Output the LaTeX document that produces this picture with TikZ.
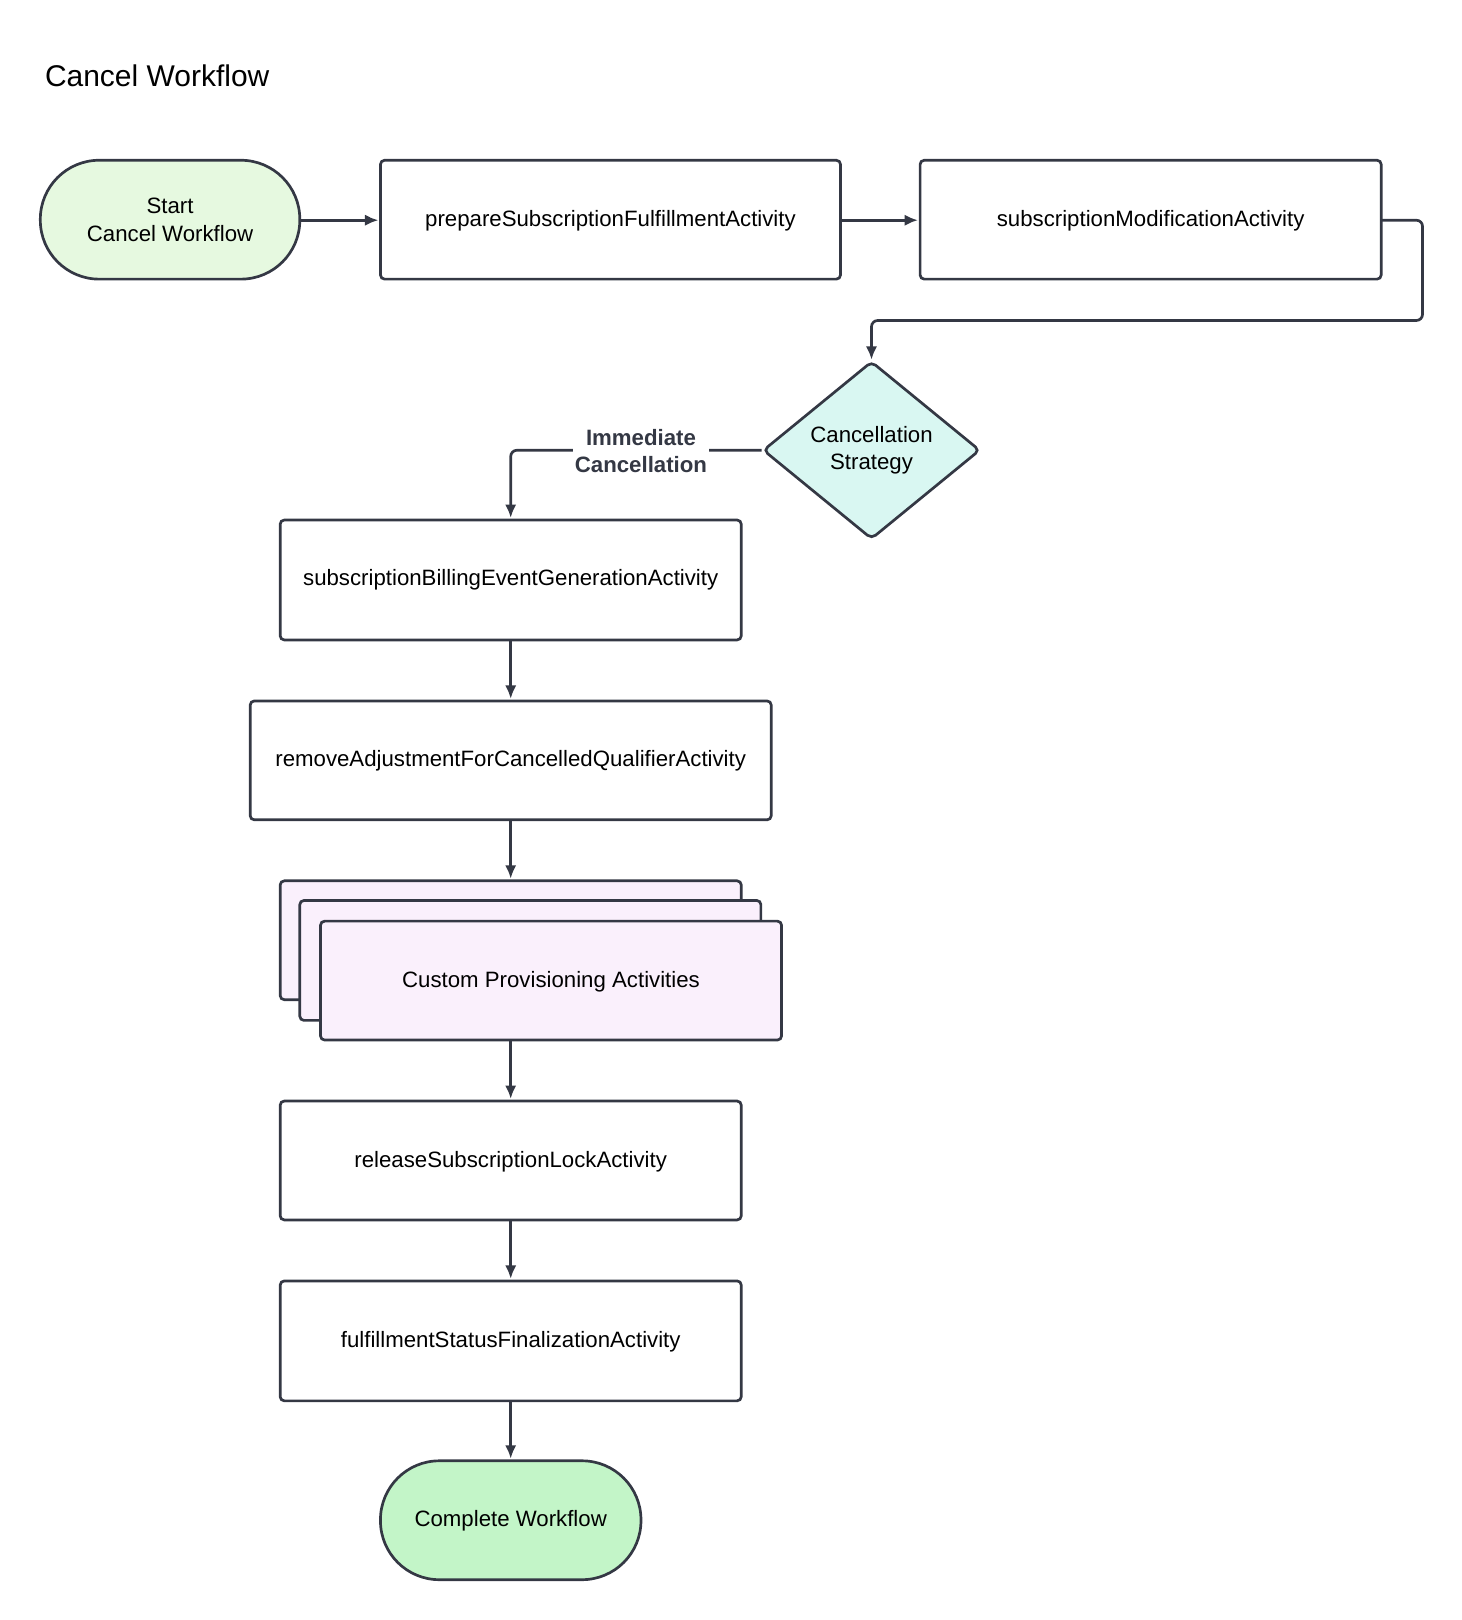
\documentclass[tikz,border=0pt]{standalone}
\usepackage{fontspec}
\setmainfont{Liberation Sans}
\usetikzlibrary{shapes.geometric,arrows.meta}
\definecolor{ln}{HTML}{343844}
\tikzset{x=1pt,y=-1pt,
 box/.style={draw=ln,line width=2.6pt,rounded corners=4pt,fill=white,inner sep=0pt},
 pill/.style={draw=ln,line width=2.6pt,rounded corners=57pt,inner sep=0pt},
 arr/.style={draw=ln,line width=2.6pt,-{Latex[length=13pt,width=11pt]},rounded corners=6pt},
 txt/.style={font=\fontsize{21.5}{27}\selectfont,align=center,text=black}}
\begin{document}
\begin{tikzpicture}
\useasboundingbox (0,0) rectangle (1414,1567);
\node[anchor=west,font=\fontsize{29}{34}\selectfont] (title) at (40,73) {Cancel Workflow};
\draw[pill,fill={rgb,255:red,230;green,249;blue,224}] (39,155) rectangle (290,270);
\node[txt] (start) at (164.5,212.5) {Start\\Cancel Workflow};
\draw[box] (368,155) rectangle (813,270);
\node[txt] (prep) at (590.5,214) {prepareSubscriptionFulfillmentActivity};
\draw[box] (890,155) rectangle (1336,270);
\node[txt] (mod) at (1113,214) {subscriptionModificationActivity};
\node[diamond,draw=ln,line width=2.6pt,fill={rgb,255:red,217;green,247;blue,242},minimum width=210pt,minimum height=172pt,inner sep=0pt,rounded corners=5pt] (dec) at (843,435.5) {};
\node[txt] at (dec) {Cancellation\\Strategy};
\draw[box] (271,503) rectangle (717,619);
\node[txt] (b1) at (494,561) {subscriptionBillingEventGenerationActivity};
\draw[box] (242,678) rectangle (746,793);
\node[txt] (b2) at (494,736) {removeAdjustmentForCancelledQualifierActivity};
\draw[box,fill={rgb,255:red,250;green,240;blue,252}] (271,852) rectangle (717,967);
\draw[box,fill={rgb,255:red,250;green,240;blue,252}] (290,871) rectangle (736,987);
\draw[box,fill={rgb,255:red,250;green,240;blue,252}] (310,891) rectangle (756,1006);
\node[txt] (cp) at (533,950) {Custom Provisioning Activities};
\draw[box] (271,1065) rectangle (717,1180);
\node[txt] (b3) at (494,1124) {releaseSubscriptionLockActivity};
\draw[box] (271,1239) rectangle (717,1355);
\node[txt] (b4) at (494,1298) {fulfillmentStatusFinalizationActivity};
\draw[pill,fill={rgb,255:red,195;green,245;blue,200}] (368,1413) rectangle (620,1528);
\node[txt] (end) at (494,1471) {Complete Workflow};
\draw[arr] (290,213) -- (366,213);
\draw[arr] (813,213) -- (888,213);
\draw[arr] (1336,213) -- (1376,213) -- (1376,310) -- (843,310) -- (843,348);
\draw[arr] (dec.west) -- (494,435.5) -- (494,501);
\node[txt,font=\bfseries\fontsize{21.5}{26}\selectfont,text=ln,fill=white,inner sep=2pt] (lab) at (620,436) {Immediate\\Cancellation};
\draw[arr] (494,619) -- (494,676);
\draw[arr] (494,793) -- (494,850);
\draw[arr] (494,1006) -- (494,1063);
\draw[arr] (494,1180) -- (494,1237);
\draw[arr] (494,1355) -- (494,1411);
\end{tikzpicture}
\end{document}
